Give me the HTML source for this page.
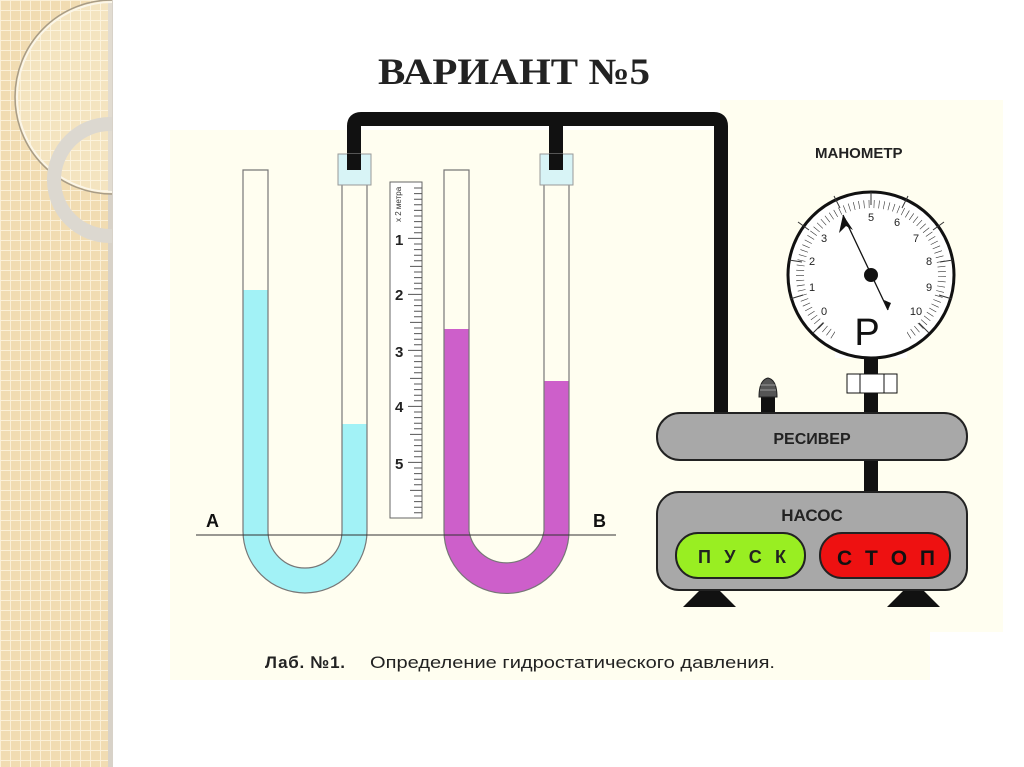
<!DOCTYPE html>
<html><head><meta charset="utf-8"><style>
body{margin:0;width:1024px;height:767px;overflow:hidden;background:#fff}
svg{display:block}
text{font-family:"Liberation Sans",sans-serif}
</style></head><body>
<svg width="1024" height="767" viewBox="0 0 1024 767">
<defs>
<pattern id="g" width="10" height="10" patternUnits="userSpaceOnUse">
<rect width="10" height="10" fill="#f1dcb2"/><path d="M0 0.5H10M0.5 0V10" stroke="#fbf0d8" stroke-width="1"/>
</pattern>
<clipPath id="lc"><rect x="0" y="0" width="112" height="767"/></clipPath>
</defs>
<rect x="0" y="0" width="112" height="767" fill="url(#g)"/>
<rect x="108" y="0" width="5" height="767" fill="#d8d2c8"/>
<g clip-path="url(#lc)">
<circle cx="112" cy="97" r="95" fill="rgba(255,250,235,0.25)" stroke="#fbf6e8" stroke-width="2"/>
<circle cx="112" cy="97" r="97" fill="none" stroke="#a89c86" stroke-width="1.5"/>
<circle cx="110" cy="180" r="56" fill="none" stroke="#dcd8d0" stroke-width="14"/>
</g>
<rect x="170" y="130" width="760" height="550" fill="#fffef0"/>
<rect x="720" y="100" width="283" height="532" fill="#fffef0"/>
<text x="378" y="84" style="font-family:'Liberation Serif',serif" font-weight="bold" font-size="37" fill="#222" textLength="272" lengthAdjust="spacingAndGlyphs">ВАРИАНТ №5</text>
<path d="M354 160V126Q354 119 361 119H714Q721 119 721 126V415" fill="none" stroke="#111" stroke-width="14"/>
<path d="M556 160V119" fill="none" stroke="#111" stroke-width="14"/>
<path d="M243 290V531A62 62 0 0 0 367 531V424H342V531A37 37 0 0 1 268 531V290Z" fill="#a2f2f6"/>
<path d="M243 170V531A62 62 0 0 0 367 531V170H342V531A37 37 0 0 1 268 531V170Z" fill="none" stroke="#777" stroke-width="1.2"/>
<rect x="338" y="154" width="33" height="31" fill="#d8f4f6" stroke="#999"/>
<rect x="347" y="154" width="14" height="16" fill="#111"/>
<path d="M444 329V531A62 62 0 0 0 569 531V381H544V531A38 38 0 0 1 469 531V329Z" fill="#cd5fca"/>
<path d="M444 170V531A62 62 0 0 0 569 531V170H544V531A38 38 0 0 1 469 531V170Z" fill="none" stroke="#777" stroke-width="1.2"/>
<rect x="540" y="154" width="33" height="31" fill="#d8f4f6" stroke="#999"/>
<rect x="549" y="154" width="14" height="16" fill="#111"/>
<rect x="390" y="182" width="32" height="336" fill="#fff" stroke="#666"/>
<g stroke="#555" stroke-width="1">
<path d="M422 188H414M422 193.6H414M422 199.2H414M422 204.8H414M422 210.4H414M422 216H414M422 221.6H414M422 227.2H414M422 232.8H414M422 238.4H408M422 244H414M422 249.6H414M422 255.2H414M422 260.8H414M422 266.4H410M422 272H414M422 277.6H414M422 283.2H414M422 288.8H414M422 294.4H408M422 300H414M422 305.6H414M422 311.2H414M422 316.8H414M422 322.4H410M422 328H414M422 333.6H414M422 339.2H414M422 344.8H414M422 350.4H408M422 356H414M422 361.6H414M422 367.2H414M422 372.8H414M422 378.4H410M422 384H414M422 389.6H414M422 395.2H414M422 400.8H414M422 406.4H408M422 412H414M422 417.6H414M422 423.2H414M422 428.8H414M422 434.4H410M422 440H414M422 445.6H414M422 451.2H414M422 456.8H414M422 462.4H408M422 468H414M422 473.6H414M422 479.2H414M422 484.8H414M422 490.4H410M422 496H414M422 501.6H414M422 507.2H414M422 512.8H414"/>
</g>
<text transform="translate(401,222) rotate(-90)" font-size="8" fill="#333">x 2 метра</text>
<g font-weight="bold" font-size="15" fill="#222">
<text x="395" y="245">1</text><text x="395" y="300">2</text><text x="395" y="357">3</text><text x="395" y="412">4</text><text x="395" y="469">5</text>
</g>
<line x1="196" y1="535" x2="616" y2="535" stroke="#333" stroke-width="1"/>
<text x="206" y="527" font-weight="bold" font-size="18" fill="#111">A</text>
<text x="593" y="527" font-weight="bold" font-size="18" fill="#111">B</text>
<text x="815" y="158" font-weight="bold" font-size="15" fill="#222">МАНОМЕТР</text>
<rect x="864" y="355" width="14" height="60" fill="#111"/>
<rect x="847" y="374" width="50" height="19" fill="#fff" stroke="#111"/>
<path d="M860 374V393M884 374V393" stroke="#111"/>
<circle cx="871" cy="275" r="83" fill="#fff"/>
<circle cx="871" cy="275" r="71" fill="none" stroke="#333" stroke-width="8" style="stroke-dasharray:0.6 4.4" transform="rotate(135 871 275)"/>
<rect x="835" y="318" width="72" height="40" fill="#fff"/>
<circle cx="871" cy="275" r="83" fill="none" stroke="#111" stroke-width="3"/>
<g stroke="#333" stroke-width="1">
<path d="M822.9 323.1L813.0 333.0"/><path d="M803 295 L790 299"/><path d="M809 230 L798 222"/><path d="M840 208 L834 196"/><path d="M902 208 L908 196"/><path d="M933 230 L944 222"/><path d="M939 295 L952 299"/><path d="M919 323 L929 333"/><path d="M871 205 L871 192"/><path d="M802 262 L789 260"/><path d="M940 262 L953 260"/>
</g>
<g font-size="11" fill="#222" text-anchor="middle">
<text x="824" y="315">0</text><text x="812" y="291">1</text><text x="812" y="265">2</text><text x="824" y="242">3</text><text x="844" y="226">4</text><text x="871" y="221">5</text><text x="897" y="226">6</text><text x="916" y="242">7</text><text x="929" y="265">8</text><text x="929" y="291">9</text><text x="916" y="315">10</text>
</g>
<line x1="843" y1="215" x2="888" y2="310" stroke="#111" stroke-width="1.3"/>
<path d="M843 215L839 233L846 226L853 230Z" fill="#111"/>
<path d="M888 310L884 300L891 303Z" fill="#111"/>
<circle cx="871" cy="275" r="7" fill="#111"/>
<text x="867" y="345" font-size="38" fill="#111" text-anchor="middle">P</text>
<rect x="761" y="395" width="14" height="20" fill="#111"/>
<path d="M759 397Q759 380 768 378Q777 380 777 397Z" fill="#555" stroke="#222"/>
<path d="M760 390H776M760 385H776" stroke="#999"/>
<rect x="864" y="458" width="14" height="36" fill="#111"/>
<rect x="657" y="413" width="310" height="47" rx="23" fill="#a8a8a8" stroke="#222" stroke-width="2"/>
<text x="812" y="444" font-weight="bold" font-size="16" fill="#222" text-anchor="middle">РЕСИВЕР</text>
<path d="M683 607L700 590H719L736 607Z" fill="#111"/>
<path d="M887 607L904 590H923L940 607Z" fill="#111"/>
<rect x="657" y="492" width="310" height="98" rx="22" fill="#a8a8a8" stroke="#222" stroke-width="2"/>
<text x="812" y="521" font-weight="bold" font-size="17" fill="#222" text-anchor="middle">НАСОС</text>
<rect x="676" y="533" width="129" height="45" rx="22" fill="#99ee22" stroke="#222" stroke-width="2"/>
<rect x="820" y="533" width="130" height="45" rx="22" fill="#ee1111" stroke="#222" stroke-width="2"/>
<text x="698" y="563" font-weight="bold" font-size="18" fill="#222" textLength="88" lengthAdjust="spacing">П У С К</text>
<text x="837" y="565" font-weight="bold" font-size="21" fill="#111" textLength="98" lengthAdjust="spacing">С Т О П</text>
<text x="265" y="668" font-weight="bold" font-size="17" fill="#222" textLength="80">Лаб. №1.</text>
<text x="370" y="668" font-size="17" fill="#222" textLength="405" lengthAdjust="spacingAndGlyphs">Определение гидростатического давления.</text>
</svg>
</body></html>
